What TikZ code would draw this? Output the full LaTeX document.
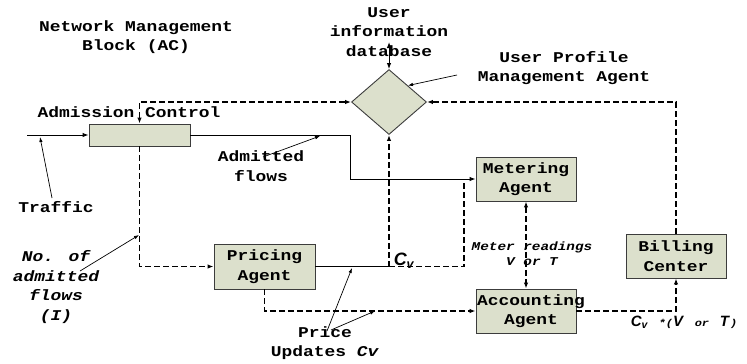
\documentclass[tikz,border=0pt]{standalone}
\usepackage{fontspec}
\setmainfont{Liberation Mono}[FakeStretch=1.2]
\newfontfamily\cvfont{Liberation Sans}
\usetikzlibrary{shapes.geometric,arrows.meta}

\definecolor{boxfill}{RGB}{220,224,204}
\definecolor{boxline}{RGB}{60,60,60}
\newcommand{\diagfont}{\fontsize{15}{19.5}\selectfont\bfseries}
\newcommand{\smallfont}{\fontsize{12}{15}\selectfont\bfseries\itshape}
\newcommand{\cvsym}{{\cvfont\bfseries\itshape C\textsubscript{v}}}

\tikzset{
  agent/.style={draw=boxline, fill=boxfill, line width=0.9bp, minimum width=100bp,
    minimum height=44bp, inner sep=0pt, align=center, font=\diagfont},
  flow/.style={line width=1bp},
  dashline/.style={line width=1.5bp, dash pattern=on 6bp off 3bp},
  pointer/.style={line width=0.7bp, -{Latex[length=5bp,width=3.5bp]}},
  lbl/.style={align=center, font=\diagfont, inner sep=0pt},
}

\begin{document}
\begin{tikzpicture}[x=1bp, y=-1bp, >={Latex[length=6bp,width=4.5bp]}]
  \useasboundingbox (0,0) rectangle (747,363);

  % boxes
  \node[agent, minimum width=101bp, minimum height=22bp] (adm) at (139.5,135) {};
  \node[draw=boxline, fill=boxfill, line width=0.9bp, shape=diamond, aspect=1.15,
    minimum width=75bp, minimum height=65bp, inner sep=0pt] (diam) at (389,102) {};
  \node[agent] (meter) at (526,179) {Metering\\Agent};
  \node[agent, minimum width=101bp, minimum height=45bp] (price) at (264.5,266.5) {Pricing\\Agent};
  \node[agent] (acct) at (526,311) {\phantom{Accou}\\\phantom{A}};
  \node[lbl] (accttext) at (531,311) {Accounting\\Agent};
  \node[agent] (bill) at (676,256) {Billing\\Center};

  % labels
  \node[lbl] (netmgmt) at (136,37) {Network Management\\Block (AC)};
  \node[lbl] (admlabel) at (129,112) {Admission Control};
  \node[lbl] (db) at (389,32) {User\\information\\database};
  \node[lbl] (upm) at (564,68) {User Profile\\Management Agent};
  \node[lbl] (admitted) at (261,166) {Admitted\\flows};
  \node[lbl] (traffic) at (56,207) {Traffic};
  \node[lbl, font=\diagfont\itshape] (noflows) at (56,287) {No. of\\admitted\\flows\\(I)};
  \node[lbl] (priceupd) at (325,343) {Price\\Updates \textit{Cv}};
  \node[lbl] (cvlabel) at (404,261) {\fontsize{18}{18}\selectfont\cvsym};
  \node[lbl, font=\smallfont] (meterread) at (532,254) {Meter readings\\V or T};
  \node[lbl] (cvvt) at (684,322)
    {\fontsize{15}{15}\selectfont\cvsym\ {\fontsize{10}{10}\selectfont\itshape *(}\textit{\cvfont V} {\fontsize{10}{10}\selectfont\itshape or} \textit{\cvfont T}{\fontsize{10}{10}\selectfont\itshape )}};

  % solid traffic flows
  \coordinate (trafficin) at (27,135);
  \draw[flow,->] (trafficin) -- (adm.west);
  \draw[flow,->] (adm.east) -- ++(160,0) |- (meter.west);
  \coordinate (cvpt) at (diam.south |- price.east);
  \draw[flow] (price.east) -- (cvpt);

  % dashed control flows
  \draw[dashline,<->] (adm.north) |- (diam.west);
  \draw[dashline,->] (adm.south) |- (price.west);
  \draw[dashline,->] (cvpt) -- (diam.south);
  \draw[dashline] (cvpt) -- ++(75,0) -- ++(0,-85);
  \draw[dashline,<->] (meter.south) -- (acct.north);
  \draw[dashline,->] (price.south) |- (acct.west);
  \draw[dashline,->] (acct.east) -| (bill.south);
  \draw[dashline,->] (bill.north) |- (diam.east);

  % database link
  \coordinate (dbtop) at (389,42);
  \draw[flow,<->] (dbtop) -- (diam.north);

  % label pointers
  \draw[pointer] (52,198) -- (40,137);
  \draw[pointer] (263,157) -- (320,136);
  \draw[pointer] (80,271) -- (139,235);
  \draw[pointer] (457,75) -- (diam.north east);
  \draw[pointer] (327,331) -- (352,268);
  \draw[pointer] (331,330) -- (375,311);
\end{tikzpicture}
\end{document}
